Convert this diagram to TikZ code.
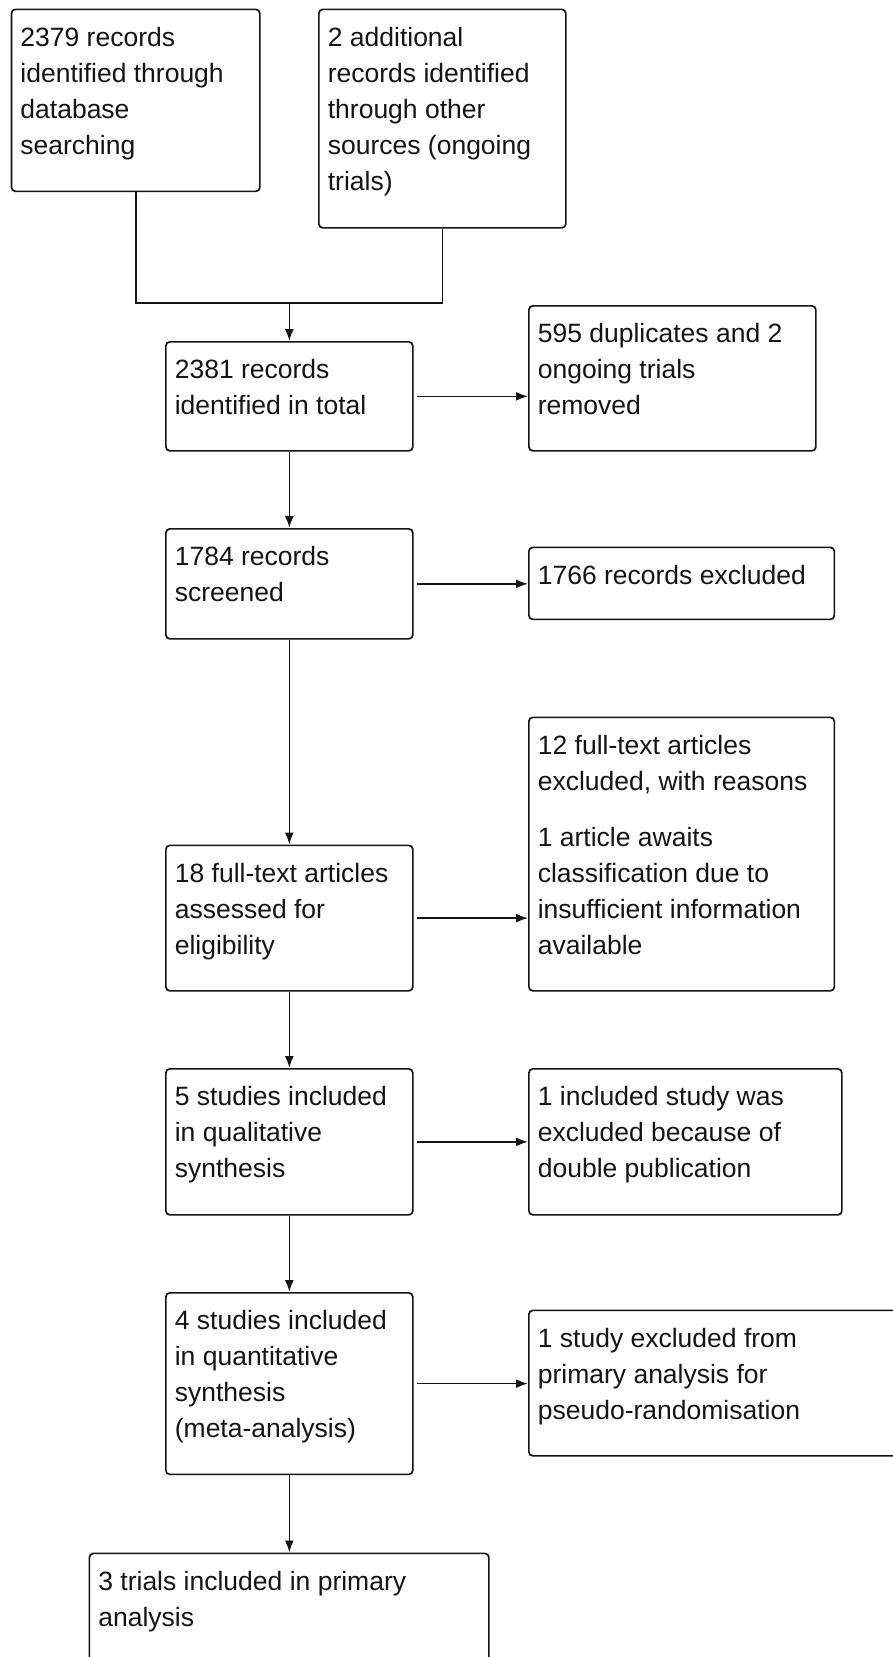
\documentclass[tikz,border=0pt]{standalone}
\usepackage{fontspec}
\setmainfont{Liberation Sans}
\usepackage{tikz}
\usetikzlibrary{arrows.meta,positioning,calc}
\definecolor{ink}{RGB}{20,20,20}
\newcommand{\flowtext}[3]{\parbox[t][#2][t]{#1}{\rule{0pt}{37pt}#3}}

\begin{document}
\begin{tikzpicture}[x=1pt,y=-1pt,
    box/.style={draw=ink,line width=1.7pt,rounded corners=4pt,anchor=north west,inner xsep=9pt,inner ysep=0pt,text=ink,font=\fontsize{26.5}{36}\selectfont},
    link/.style={draw=ink,line width=1.7pt,line join=miter},
    flow/.style={link,-{Latex[length=12pt,width=9pt]}},
    side/.style={flow,shorten <=3pt}]
  \useasboundingbox (0,0) rectangle (893,1657);
  \node[box] (db) at (10.6,8.5) {\flowtext{230.4pt}{182pt}{2379 records\\identified through\\database\\searching}};
  \node[box] (other) at (318,8.5) {\flowtext{229pt}{218.5pt}{2 additional\\records identified\\through other\\sources (ongoing\\trials)}};
  \node[box] (total) at (165,341) {\flowtext{229pt}{109pt}{2381 records\\identified in total}};
  \node[box] (dupes) at (528,305) {\flowtext{269pt}{145pt}{595 duplicates and 2\\ongoing trials\\removed}};
  \node[box] (screened) at (165,528) {\flowtext{229pt}{110pt}{1784 records\\screened}};
  \node[box] (excl) at (528,546.5) {\flowtext{287.5pt}{72pt}{1766 records excluded}};
  \node[box] (fulltext) at (528,716.5) {\flowtext{287.5pt}{273.5pt}{12 full-text articles\\excluded, with reasons\\[20pt]1 article awaits\\classification due to\\insufficient information\\available}};
  \node[box] (assessed) at (165,844.5) {\flowtext{229pt}{145.5pt}{18 full-text articles\\assessed for\\eligibility}};
  \node[box] (qual) at (165,1068) {\flowtext{229pt}{146pt}{5 studies included\\in qualitative\\synthesis}};
  \node[box] (double) at (528,1068) {\flowtext{295pt}{146pt}{1 included study was\\excluded because of\\double publication}};
  \node[box] (quant) at (165,1292) {\flowtext{229pt}{181.5pt}{4 studies included\\in quantitative\\synthesis\\(meta-analysis)}};
  \node[box] (pseudo) at (528,1309.5) {\flowtext{362pt}{145.5pt}{1 study excluded from\\primary analysis for\\pseudo-randomisation}};
  \node[box] (primary) at (88.5,1552.5) {\flowtext{381.5pt}{150pt}{3 trials included in primary\\analysis}};
  \coordinate (merge) at (total.north |- 0,303);
  \draw[link] (db.south) |- (merge) -| (other.south);
  \draw[flow] (merge) -- (total.north);
  \foreach \a/\b in {total/screened,screened/assessed,assessed/qual,qual/quant,quant/primary}
    \draw[flow] (\a.south) -- (\a.south |- \b.north);
  \foreach \a/\b in {total/dupes,screened/excl,assessed/fulltext,qual/double,quant/pseudo}
    \draw[side] (\a.east) -- (\a.east -| \b.west);
\end{tikzpicture}
\end{document}
